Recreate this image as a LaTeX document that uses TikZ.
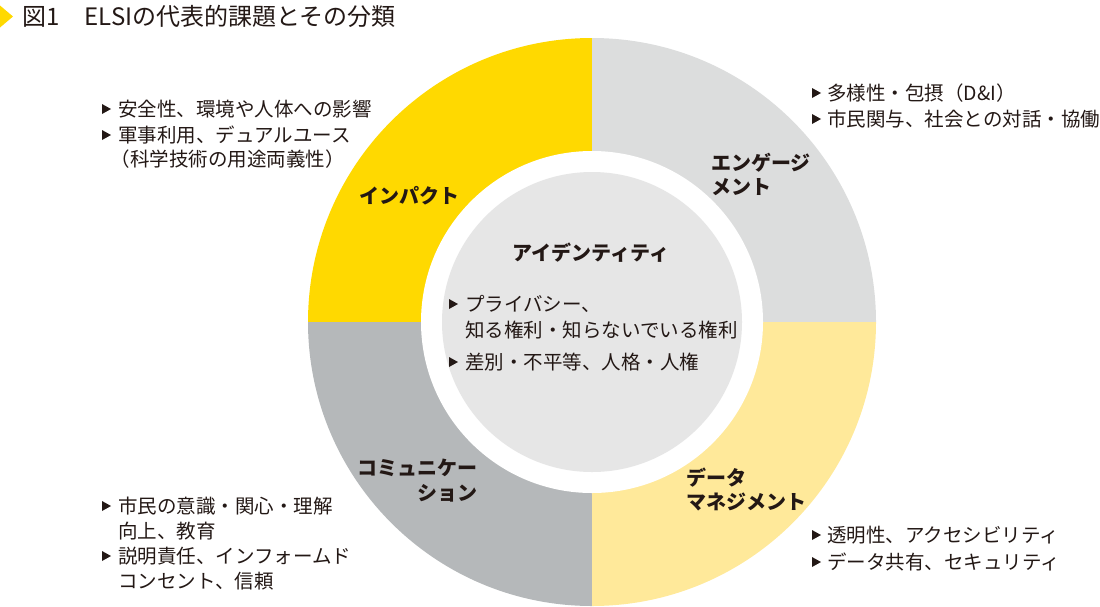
\documentclass[tikz,border=0pt]{standalone}
\usepackage{fontspec}
\setmainfont{Noto Sans CJK JP}
\definecolor{cyel}{HTML}{FFD900}
\definecolor{clgray}{HTML}{DCDDDD}
\definecolor{cdgray}{HTML}{B5B8BA}
\definecolor{clyel}{HTML}{FFE99A}
\definecolor{cdisk}{HTML}{E6E6E6}
\definecolor{ctext}{HTML}{231815}
\newcommand\bul[2]{\fill[ctext] (#1,#2) ++(0,-5) -- ++(9,5) -- ++(-9,5) -- cycle;}
\tikzset{
  txt/.style={anchor=base west, inner sep=0pt, text=ctext, font=\fontsize{19.5}{24}\selectfont},
  lbl/.style={anchor=base west, inner sep=0pt, text=ctext, font=\fontsize{20}{24}\selectfont\bfseries},
  lblr/.style={lbl, anchor=base east},
  ttl/.style={anchor=base west, inner sep=0pt, text=ctext, font=\fontsize{24}{26}\selectfont}
}
\begin{document}
\begin{tikzpicture}[x=1pt,y=-1pt]
\useasboundingbox (0,0) rectangle (1100,606);
% title
\fill[cyel] (0,5.5) -- (13,16.5) -- (0,27.5) -- cycle;
\node[ttl] (title) at (22,25.8) {図1\hspace{1pt}　ELSIの代表的課題とその分類};
% ring
\begin{scope}
  \clip (0,0) rectangle (1100,606);
  \clip (592,322) circle[radius=284];
  \fill[cyel] (300,30) rectangle (592,322);
  \fill[clgray] (592,30) rectangle (890,322);
  \fill[clyel] (592,322) rectangle (890,620);
  \fill[cdgray] (300,322) rectangle (592,620);
\end{scope}
\fill[white] (592,322) circle[radius=171];
\fill[cdisk] (592,322) circle[radius=150];
% quadrant labels
\node[lbl] (imp) at (359,203.5) {インパクト};
\node[lbl] (eng1) at (711,170.5) {エンゲージ};
\node[lbl] (eng2) at (711,194.5) {メント};
\node[lblr] (com1) at (478,475.5) {コミュニケー};
\node[lblr] (com2) at (478,500.5) {ション};
\node[lbl] (dat1) at (686,485.5) {データ};
\node[lbl] (dat2) at (686,509.5) {マネジメント};
% center
\node[lbl, anchor=base] (idt) at (591,260.5) {アイデンティティ};
\bul{449}{304}
\node[txt] (c1) at (465,311.5) {プライバシー、};
\node[txt] (c2) at (465,337.5) {知る権利・知らないでいる権利};
\bul{449}{362}
\node[txt] (c3) at (465,369.5) {差別・不平等、人格・人権};
% left top
\bul{102}{109}
\node[txt] (lt1) at (118,116.5) {安全性、環境や人体への影響};
\bul{102}{135}
\node[txt] (lt2) at (118,142.5) {軍事利用、デュアルユース};
\node[txt] (lt3) at (110.5,166.5) {（科学技術の用途両義性）};
% right top
\bul{812}{93}
\node[txt] (rt1) at (827,100.5) {多様性・包摂（D\&I）};
\bul{812}{119}
\node[txt] (rt2) at (827,126.5) {市民関与、社会との対話・協働};
% left bottom
\bul{102}{506}
\node[txt] (lb1) at (118,513.5) {市民の意識・関心・理解};
\node[txt] (lb2) at (118,538.5) {向上、教育};
\bul{102}{556}
\node[txt] (lb3) at (118,563.5) {説明責任、インフォームド};
\node[txt] (lb4) at (118,588.5) {コンセント、信頼};
% right bottom
\bul{812}{535}
\node[txt] (rb1) at (827,542.5) {透明性、アクセシビリティ};
\bul{812}{562}
\node[txt] (rb2) at (827,569.5) {データ共有、セキュリティ};
\end{tikzpicture}
\end{document}
